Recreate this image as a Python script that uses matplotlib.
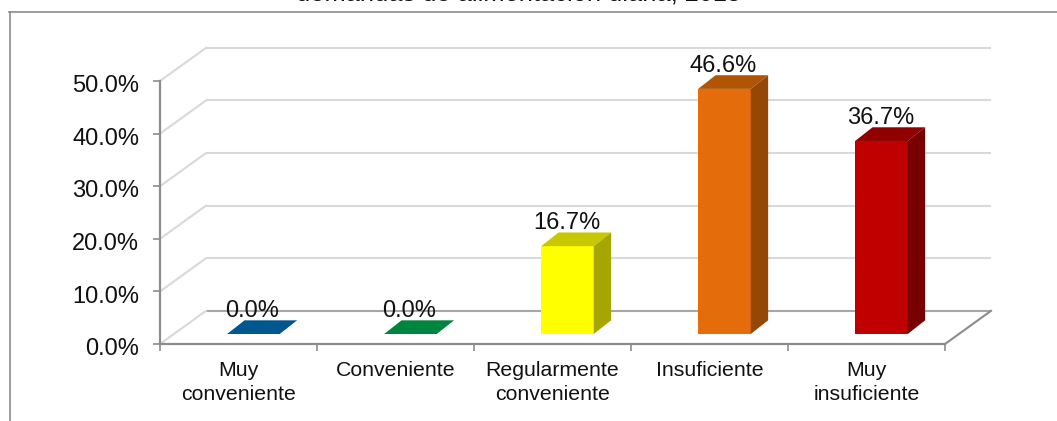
#!/usr/bin/env python3
import numpy as np
import matplotlib
matplotlib.use('Agg')
import matplotlib.pyplot as plt
from matplotlib.lines import Line2D
from matplotlib.patches import Polygon
from matplotlib.transforms import ScaledTranslation

plt.rcParams['font.family'] = ['Liberation Sans', 'DejaVu Sans']

categories = ['Muy\nconveniente', 'Conveniente', 'Regularmente\nconveniente',
              'Insuficiente', 'Muy\ninsuficiente']
values = [0.0, 0.0, 16.7, 46.6, 36.7]
y_ticks = [0, 10, 20, 30, 40, 50]

front_colors = ['#00568f', '#00853e', '#ffff00', '#e46c0a', '#c00000']
top_colors = ['#00568f', '#00853e', '#c8c800', '#b05504', '#900000']
side_colors = ['#004470', '#006630', '#a6a600', '#954806', '#780000']

# 3d look, all in data units (categories / percent)
wall_dx = 0.293
wall_dy = 6.3
bar_shift_x = 0.095
bar_shift_y = 1.9
bar_width = 0.335
bar_dx = 0.111
bar_dy = 2.6

axis_color = '#8c8c8c'
grid_color = '#d9d9d9'
floor_color = '#a6a6a6'


def draw_walls(ax):
    for t in y_ticks:
        col = floor_color if t == 0 else grid_color
        ax.plot([-0.5+wall_dx, 4.5+wall_dx], [t+wall_dy, t+wall_dy], color=col,
                lw=1.5, zorder=1, clip_on=False, solid_capstyle='butt')
        ax.plot([-0.5, -0.5+wall_dx], [t, t+wall_dy], color=grid_color,
                lw=1.5, zorder=1, clip_on=False)
    # right edge of the floor
    ax.plot([4.5, 4.5+wall_dx], [0, wall_dy], color=axis_color, lw=1.5,
            zorder=2, clip_on=False)


def draw_bars(ax):
    x = np.arange(len(values)) + bar_shift_x
    ax.bar(x, values, width=bar_width, bottom=bar_shift_y, color=front_colors,
           zorder=3, clip_on=False)
    for i in range(len(values)):
        left = x[i] - bar_width/2
        right = x[i] + bar_width/2
        low = bar_shift_y
        high = bar_shift_y + values[i]
        ax.add_patch(Polygon([(left, high), (right, high),
                              (right+bar_dx, high+bar_dy), (left+bar_dx, high+bar_dy)],
                             facecolor=top_colors[i], edgecolor='none',
                             zorder=3, clip_on=False))
        ax.add_patch(Polygon([(right, low), (right+bar_dx, low+bar_dy),
                              (right+bar_dx, high+bar_dy), (right, high)],
                             facecolor=side_colors[i], edgecolor='none',
                             zorder=3, clip_on=False))
        ax.annotate('%.1f%%' % values[i], (x[i]-0.006, high+bar_dy), xytext=(0, 2.5),
                    textcoords='offset points', ha='center', va='baseline',
                    fontsize=17, color='#111111', zorder=4, annotation_clip=False)


fig = plt.figure(figsize=(10.57, 4.21), dpi=100)
ax = fig.add_axes([160/1057, 1-344/421, 785/1057, 263/421])

draw_walls(ax)
draw_bars(ax)

ax.set_xlim(-0.5, 4.5)
ax.set_ylim(0, 50)
ax.set_yticks(y_ticks)
ax.set_yticklabels(['%.1f%%' % t for t in y_ticks], fontsize=17, color='#111111')
ax.set_xticks(np.arange(-0.5, 5))
ax.set_xticklabels([])
ax.set_xticks(np.arange(5), minor=True)
ax.set_xticklabels(categories, minor=True, fontsize=15.3, color='#111111',
                   linespacing=1.38)
ax.tick_params(axis='x', which='minor', length=0, pad=12)
ax.tick_params(axis='x', which='major', length=5, width=1.2, color=axis_color)
ax.tick_params(axis='y', length=5, width=1.2, color=axis_color, pad=10)

# labels sit a little below their ticks in the original
down = ScaledTranslation(0, -2/72, fig.dpi_scale_trans)
for lab in ax.get_yticklabels():
    lab.set_transform(lab.get_transform() + down)

for s in ['top', 'right']:
    ax.spines[s].set_visible(False)
for s in ['left', 'bottom']:
    ax.spines[s].set_color(axis_color)
    ax.spines[s].set_linewidth(1.6)
    ax.spines[s].set_zorder(2)

# outer chart frame, right and bottom sides are cropped in the original
fig.add_artist(Line2D([9.5/1057, 9.5/1057], [0, 1-12/421], color=axis_color, lw=1.2))
fig.add_artist(Line2D([9/1057, 1], [1-12/421, 1-12/421], color=axis_color, lw=1.2))

# title is cut off by the top of the image, only its bottom edge shows
fig.text(519/1057, 1-0.1/421, 'demandas de alimentación diaria, 2015', ha='center',
         va='baseline', fontsize=18.3, color='#111111')

fig.savefig('out.png', dpi=100)
